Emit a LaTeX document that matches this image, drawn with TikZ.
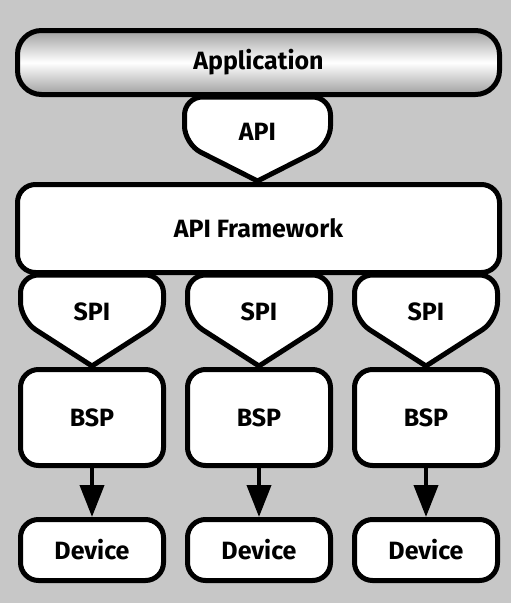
\documentclass[tikz,border=0pt]{standalone}
\usepackage{fontspec}
\setmainfont{Fira Sans}
\usepackage{tikz}
\usetikzlibrary{positioning,arrows.meta}

\definecolor{paper}{gray}{0.78}

\begin{document}
\begin{tikzpicture}[x=1pt,y=-1pt,
			layer/.style={rectangle, draw=black, fill=white, line width=5pt, rounded corners=18pt, font=\bfseries\fontsize{25}{29}\selectfont},
			appbox/.style={layer, rounded corners=24pt, top color=gray!75, bottom color=gray!75, middle color=white},
			unitbox/.style={layer, minimum width=143pt},
			iface/.style={draw=black, fill=white, line width=5pt},
			ifacetext/.style={font=\bfseries\fontsize{25}{29}\selectfont},
			flow/.style={line width=4pt, -{Triangle[width=24pt,length=32pt]}},
			]
			\useasboundingbox[fill=paper] (0,0) rectangle (511,603);

			%Nodes
				\draw[iface] (257.5,97) [rounded corners=18pt] -- (330.5,97) -- (330.5,144) [sharp corners] -- (257.5,181) [rounded corners=18pt] -- (184.5,144) -- (184.5,97) [sharp corners] -- cycle;
				\node[appbox, minimum width=482pt, minimum height=64pt]	(app)	at (258.5,62.5)	{Application};
				\node[ifacetext]	(api)	at (257.5,132)	{API};
				\node[layer, minimum width=482pt, minimum height=88pt]	(frame)	at (258.5,228.5)	{API Framework};

				\foreach \i/\x in {1/92, 2/259, 3/426} {
					\draw[iface] (\x,275) [rounded corners=18pt] -- (\x+71.5,275) -- (\x+71.5,320) [sharp corners] -- (\x,366) [rounded corners=18pt] -- (\x-71.5,320) -- (\x-71.5,275) [sharp corners] -- cycle;
					\node[ifacetext]	(spi-\i)	at (\x,312)		{SPI};
					\node[unitbox, minimum height=96pt]	(bsp-\i)	at (\x,417.5)	{BSP};
					\node[unitbox, minimum height=61pt]	(dev-\i)	at (\x,550)		{Device};
				}

			%Lines
				\foreach \i in {1,2,3}
					\draw[flow] (bsp-\i) -- (dev-\i);
\end{tikzpicture}
\end{document}
